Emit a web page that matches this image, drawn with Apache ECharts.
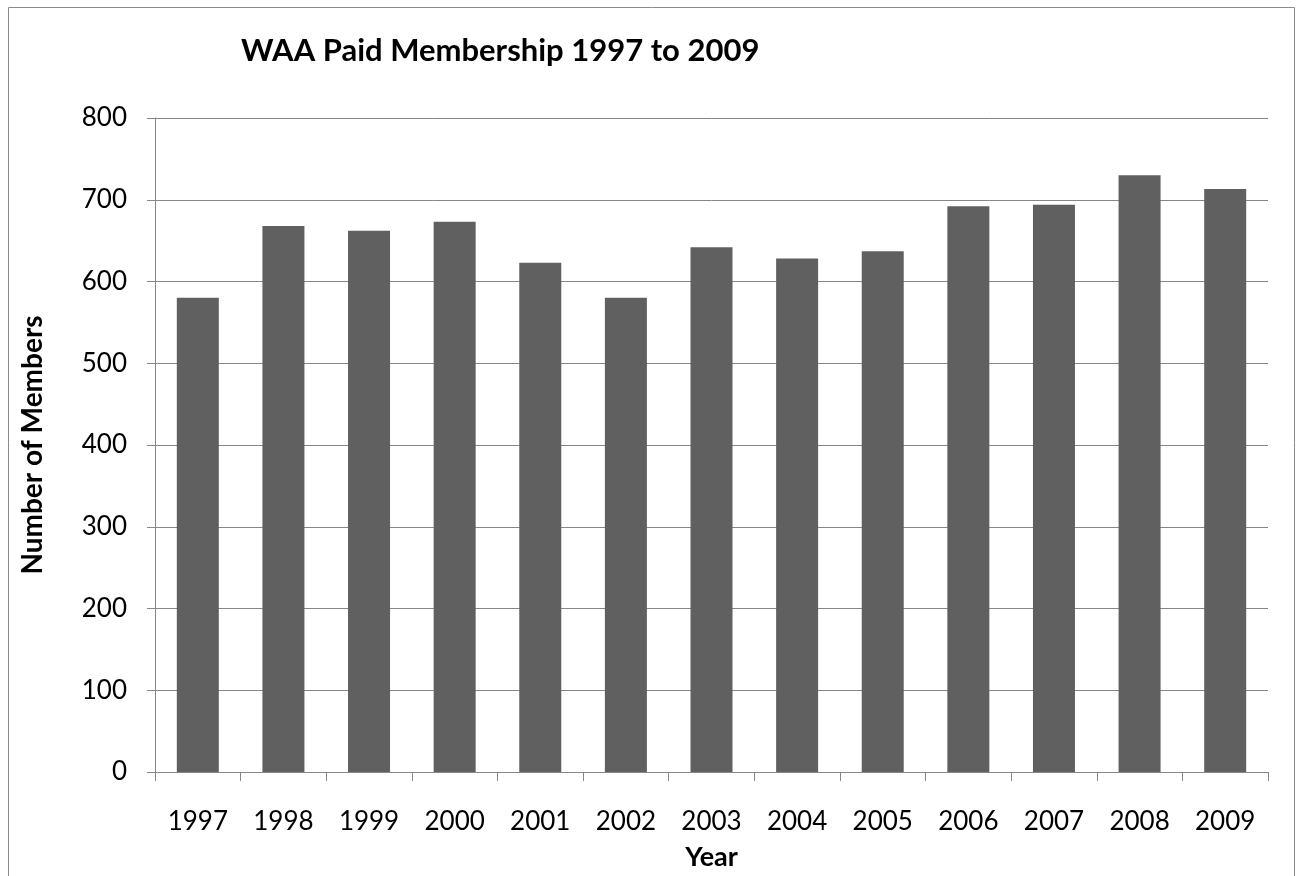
<!DOCTYPE html>
<html>
<head>
<meta charset="utf-8">
<script src="https://cdn.jsdelivr.net/npm/echarts@6/dist/echarts.min.js"></script>
<style>
html,body{margin:0;padding:0;background:#fff;}
#c{width:1301px;height:876px;}
</style>
</head>
<body>
<div id="c"></div>
<script>
const years = ['1997','1998','1999','2000','2001','2002','2003','2004','2005','2006','2007','2008','2009'];
const members = [580, 668, 662, 673, 623, 580, 642, 628, 637, 692, 694, 730, 713];
const yTicks = {min: 0, max: 800, interval: 100};

const chart = echarts.init(document.getElementById('c'));
const font = 'Lato, "Open Sans", sans-serif';
chart.setOption({
  animation: false,
  backgroundColor: '#fff',
  graphic: [{
    type: 'rect',
    shape: {x: 8.5, y: 7.5, width: 1286, height: 900},
    style: {fill: 'none', stroke: '#8a8a8a', lineWidth: 1},
    silent: true
  }],
  title: {
    text: 'WAA Paid Membership 1997 to 2009',
    left: 236, top: 30,
    textStyle: {fontFamily: font, fontSize: 31, fontWeight: 'bold', color: '#000'}
  },
  grid: {left: 155, right: 33, top: 118, bottom: 101},
  xAxis: {
    type: 'category',
    data: years,
    name: 'Year',
    nameLocation: 'middle',
    nameGap: 72,
    nameTextStyle: {fontFamily: font, fontSize: 27, fontWeight: 'bold', color: '#000'},
    axisLine: {lineStyle: {color: '#868686', width: 1}},
    axisTick: {show: true, length: 9, lineStyle: {color: '#868686'}},
    axisLabel: {fontFamily: font, fontSize: 26, color: '#000', margin: 37}
  },
  yAxis: {
    type: 'value',
    min: yTicks.min, max: yTicks.max, interval: yTicks.interval,
    name: 'Number of Members',
    nameLocation: 'middle',
    nameGap: 108,
    nameTextStyle: {fontFamily: font, fontSize: 28, fontWeight: 'bold', color: '#000'},
    axisLine: {show: true, lineStyle: {color: '#868686', width: 1}},
    axisTick: {show: true, length: 8, lineStyle: {color: '#868686'}},
    axisLabel: {fontFamily: font, fontSize: 26, color: '#000', margin: 28},
    splitLine: {lineStyle: {color: '#868686', width: 1}}
  },
  series: [{
    type: 'bar',
    data: members,
    barWidth: 42,
    itemStyle: {color: '#606060'}
  }]
});
</script>
</body>
</html>
